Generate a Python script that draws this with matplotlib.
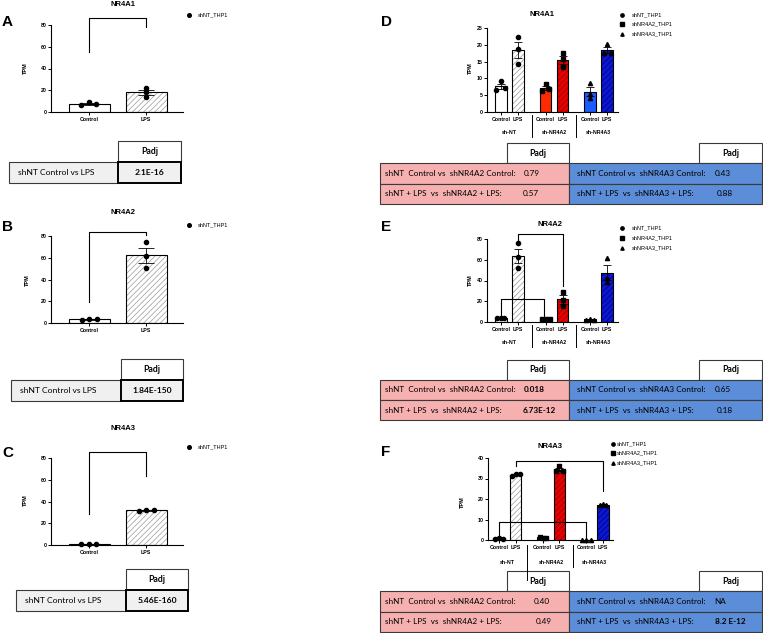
import numpy as np
import matplotlib
matplotlib.use('Agg')
import matplotlib.pyplot as plt
from matplotlib.patches import Rectangle

# ----------------------------- DATA -----------------------------
single_cats = ['Control', 'LPS']
group_ticklabels = ['Control', 'LPS', 'Control', 'LPS', 'Control', 'LPS']
group_names = ['sh-NT', 'sh-NR4A2', 'sh-NR4A3']
legend_single = ['shNT_THP1']
legend_group = ['shNT_THP1', 'shNR4A2_THP1', 'shNR4A3_THP1']

# Panel A  (NR4A1, shNT only)
A_control = [6.4, 8.9, 7.0]
A_lps = [22.4, 18.1, 13.5]
# Panel B  (NR4A2, shNT only)
B_control = [2.8, 3.9, 3.8]
B_lps = [74.2, 61.9, 50.9]
# Panel C  (NR4A3, shNT only)
C_control = [0.5, 0.6, 0.5]
C_lps = [31.0, 32.2, 32.0]

# Panel D  (NR4A1)
D_shNT_control = [9.2, 6.5, 7.2]
D_shNT_lps = [22.4, 18.7, 14.2]
D_shNR4A2_control = [8.3, 6.3, 6.7]
D_shNR4A2_lps = [17.5, 15.7, 13.5]
D_shNR4A3_control = [8.5, 5.4, 4.1]
D_shNR4A3_lps = [20.1, 17.6, 17.6]
# Panel E  (NR4A2)
E_shNT_control = [3.5, 4.2, 4.0]
E_shNT_lps = [76.0, 63.0, 52.0]
E_shNR4A2_control = [2.6, 3.0, 2.8]
E_shNR4A2_lps = [28.9, 21.5, 15.0]
E_shNR4A3_control = [2.2, 2.8, 2.4]
E_shNR4A3_lps = [61.7, 42.4, 38.5]
# Panel F  (NR4A3)
F_shNT_control = [0.7, 0.8, 0.7]
F_shNT_lps = [31.3, 32.2, 32.0]
F_shNR4A2_control = [1.6, 1.1, 1.0]
F_shNR4A2_lps = [36.1, 33.5, 33.5]
F_shNR4A3_control = [0.05, 0.05, 0.05]
F_shNR4A3_lps = [17.0, 17.6, 16.9]

# Tables
single_row_label = 'shNT Control vs LPS'
A_padj = '2.1E-16'
B_padj = '1.84E-150'
C_padj = '5.46E-160'
pink_labels = ['shNT  Control vs  shNR4A2 Control:', 'shNT + LPS  vs  shNR4A2 + LPS:']
blue_labels = ['shNT Control vs  shNR4A3 Control:', 'shNT + LPS  vs  shNR4A3 + LPS:']
D_pink_vals = ['0.79', '0.57']
D_blue_vals = ['0.43', '0.88']
E_pink_vals = ['0.018', '6.73E-12']
E_blue_vals = ['0.65', '0.18']
F_pink_vals = ['0.40', '0.49']
F_blue_vals = ['NA', '8.2 E-12']

# ----------------------------- STYLE -----------------------------
W, H = 763, 633
fig = plt.figure(figsize=(W / 100, H / 100), dpi=100)
CF = 'Liberation Sans'
TF = 'Lato'
TFS = 5.9

PINK = '#f7b0b0'
BLUE = '#5b8dd8'
GRAY = '#f0f0f0'
BORDER = '#3a3a3a'

ov = fig.add_axes([0, 0, 1, 1])
ov.set_xlim(0, W)
ov.set_ylim(H, 0)
ov.axis('off')
ov.set_zorder(5)


def px_axes(x0, y0, x1, y1):
    ax = fig.add_axes([x0 / W, 1 - y1 / H, (x1 - x0) / W, (y1 - y0) / H])
    ax.patch.set_alpha(0)
    ax._pxbox = (x0, y0, x1, y1)
    return ax


def style(ax, ylim, yticks, xticks, xlabels):
    ax.set_ylim(*ylim)
    ax.set_yticks(yticks)
    ax.set_xticks(xticks)
    ax.set_xticklabels(xlabels)
    for s in ['top', 'right']:
        ax.spines[s].set_visible(False)
    for s in ['left', 'bottom']:
        ax.spines[s].set_linewidth(0.8)
    ax.tick_params(length=2.3, width=0.7, labelsize=3.8, pad=1)
    for lab in ax.get_xticklabels() + ax.get_yticklabels():
        lab.set_fontweight('bold')
        lab.set_family(CF)


def ylabel(ax, xp, yp):
    x0, y0, x1, y1 = ax._pxbox
    ax.set_ylabel('TPM', fontsize=4, fontweight='bold', family=CF)
    ax.yaxis.set_label_coords((xp - x0) / (x1 - x0), (y1 - yp) / (y1 - y0))


def px_per_unit(ax):
    x0, y0, x1, y1 = ax._pxbox
    lo, hi = ax.get_xlim()
    return (x1 - x0) / (hi - lo)


def draw_bar(ax, x, vals, width, face, hatch, hatchcol, marker, jit_px, capsize):
    vals = np.asarray(vals)
    m = vals.mean()
    sem = vals.std(ddof=1) / np.sqrt(len(vals))
    if hatch:
        ax.bar(x, m, width, color=face, edgecolor=hatchcol, hatch=hatch, linewidth=0, zorder=2)
    else:
        ax.bar(x, m, width, color=face, linewidth=0, zorder=2)
    ax.bar(x, m, width, fill=False, edgecolor='black', linewidth=0.8, zorder=3)
    ax.errorbar(x, m, yerr=sem, color='black', elinewidth=0.6, capsize=capsize,
                capthick=0.6, zorder=4, fmt='none')
    ppu = px_per_unit(ax)
    ax.plot(x + np.asarray(jit_px) / ppu, vals, ls='none', marker=marker, color='black',
            ms=3, zorder=5, clip_on=False)


def bracket(ax, xa, xb, ya, top, yb):
    ax.plot([xa, xa, xb, xb], [ya, top, top, yb], color='black', lw=0.8,
            clip_on=False, zorder=6)


plt.rcParams['hatch.linewidth'] = 0.5

# ----------------------------- PANELS A-C -----------------------------
single_specs = [
    ('A', 'NR4A1', (A_control, A_lps), (51, 25, 183, 112), (123, 5), (28, 68),
     ([-7.7, 0, 7.3], [0, 0, 0]), (54.9, 86.2, 77.9), 15, 22),
    ('B', 'NR4A2', (B_control, B_lps), (51, 236, 183, 323), (123, 213), (30, 280),
     ([-7, 0, 7.7], [0, 0, 0]), (19.0, 84.0, 81.0), 225, 227),
    ('C', 'NR4A3', (C_control, C_lps), (51, 458, 183, 545), (123, 428), (28, 500),
     ([-7.7, 0, 7.3], [-7.3, 0, 7.7]), (28.5, 85.2, 63.7), 447, 453),
]

for letter, title, (ctrl, lps), box, tpos, lpos, jit, br, legy, lety in single_specs:
    ax = px_axes(*box)
    ax.set_xlim(-0.67, 1.65)
    style(ax, (0, 80), [0, 20, 40, 60, 80], [0, 1], single_cats)
    draw_bar(ax, 0, ctrl, 0.72, 'white', None, None, 'o', jit[0], 6)
    draw_bar(ax, 1, lps, 0.72, 'white', '//////', '#9a9a9a', 'o', jit[1], 6)
    bracket(ax, 0, 1, br[0], br[1], br[2])
    ylabel(ax, *lpos)
    ov.text(tpos[0], tpos[1], title, fontsize=5.5, fontweight='bold', family=CF,
            ha='center', va='center')
    ov.text(2, lety, letter, fontsize=11, fontweight='bold', family=CF, ha='left', va='center')
    ov.plot([189], [legy], 'o', color='black', ms=2.6)
    ov.text(198, legy, legend_single[0], fontsize=4, family=CF, va='center')

# single tables
single_tables = [
    ((9, 118, 181), 141, A_padj),
    ((11, 121, 183), 359, B_padj),
    ((16, 126, 188), 569, C_padj),
]
for (xl, xm, xr), y0, val in single_tables:
    ov.add_patch(Rectangle((xm, y0), xr - xm, 20.5, facecolor='white', edgecolor=BORDER, lw=0.8))
    ov.text((xm + xr) / 2, y0 + 10.5, 'Padj', fontsize=6.3, fontweight='bold', family=TF,
            ha='center', va='center')
    ov.add_patch(Rectangle((xl, y0 + 21), xm - xl, 20.5, facecolor=GRAY, edgecolor=BORDER, lw=0.8))
    ov.add_patch(Rectangle((xm, y0 + 21), xr - xm, 20.5, facecolor=GRAY, edgecolor='black', lw=1.4))
    ov.text(xl + 9, y0 + 31.5, single_row_label, fontsize=6.1, family=TF, va='center')
    ov.text((xm + xr) / 2, y0 + 31.5, val, fontsize=6.1, fontweight='bold', family=TF,
            ha='center', va='center')

# ----------------------------- PANELS D-F -----------------------------
positions = [0, 1, 2.62, 3.62, 5.24, 6.24]
faces = ['white', 'white', '#ff2a00', '#e80000', '#1a5cff', '#0a18d6']
hatches = [None, '//////', None, '//////', None, '//////']
hatchcols = [None, '#9a9a9a', None, '#8a0000', None, '#00006a']
markers = ['o', 'o', 's', 's', '^', '^']

group_specs = [
    dict(letter='D', title='NR4A1', tpos=(542, 15), lety=22, box=(487, 28, 618, 112),
         xlim=(-0.82, 6.88), ylim=(0, 25), yticks=[0, 5, 10, 15, 20, 25], lpos=(473, 68),
         data=[D_shNT_control, D_shNT_lps, D_shNR4A2_control, D_shNR4A2_lps,
               D_shNR4A3_control, D_shNR4A3_lps],
         jit=[[0, -4.5, 4], [0, 0, 0], [0, -4, 3.3], [0, 0, 0], [0, 0, 0], [0, -3.5, 3.5]],
         brackets=[], seps=[(1.8, 115, 137), (4.43, 115, 137)], gl_off=20,
         leg=(622, 632, [15, 24.3, 34.3]), table_y=143),
    dict(letter='E', title='NR4A2', tpos=(550, 225), lety=227, box=(487, 239, 618, 322),
         xlim=(-0.82, 6.88), ylim=(0, 80), yticks=[0, 20, 40, 60, 80], lpos=(473, 280),
         data=[E_shNT_control, E_shNT_lps, E_shNR4A2_control, E_shNR4A2_lps,
               E_shNR4A3_control, E_shNR4A3_lps],
         jit=[[-3.5, 0, 3.5], [0, 0, 0], [-4, 0, 4], [0, 0, 0], [-4, 0, 4], [0, 0, 0]],
         brackets=[(1, 3.62, 78, 85, 34.3), (0, 2.55, 5, 22, 6)],
         seps=[(1.8, 325, 347), (4.43, 325, 347)], gl_off=20,
         leg=(622, 632, [228.3, 237.7, 248.3]), table_y=359.5),
    dict(letter='F', title='NR4A3', tpos=(550, 446), lety=452, box=(488, 458, 613, 540),
         xlim=(-0.66, 6.83), ylim=(0, 40), yticks=[0, 10, 20, 30, 40], lpos=(465, 502),
         data=[F_shNT_control, F_shNT_lps, F_shNR4A2_control, F_shNR4A2_lps,
               F_shNR4A3_control, F_shNR4A3_lps],
         jit=[[-4, 0, 4], [-4, 0, 4], [-3, 0, 3], [0, -3.5, 3.5], [-4.5, 0, 4.5], [-3, 0, 3]],
         brackets=[(1, 6.24, 36, 38.5, 23.8), (0, 5.24, 1.6, 8.6, 0.8)],
         seps=[(1.66, 545, 580), (4.41, 545, 567)], gl_off=23,
         leg=(612.5, 617, [444.3, 452.7, 462.7]), table_y=571),
]

for sp in group_specs:
    ax = px_axes(*sp['box'])
    ax.set_xlim(*sp['xlim'])
    style(ax, sp['ylim'], sp['yticks'], positions, group_ticklabels)
    for i, vals in enumerate(sp['data']):
        draw_bar(ax, positions[i], vals, 0.68, faces[i], hatches[i], hatchcols[i],
                 markers[i], sp['jit'][i], 2.8)
    for xa, xb, ya, top, yb in sp['brackets']:
        bracket(ax, xa, xb, ya, top, yb)
    for g, name in enumerate(group_names):
        xc = (positions[2 * g] + positions[2 * g + 1]) / 2
        ax.annotate(name, xy=(xc, 0), xycoords=('data', 'axes fraction'),
                    xytext=(0, -sp['gl_off']), textcoords='offset pixels',
                    fontsize=3.8, fontweight='bold', family=CF, ha='center', va='center')
    ppu = px_per_unit(ax)
    x0 = sp['box'][0]
    for xs, ya, yb in sp['seps']:
        xp = x0 + (xs - sp['xlim'][0]) * ppu
        ov.plot([xp, xp], [ya, yb], color='black', lw=0.7)
    ylabel(ax, *sp['lpos'])
    ov.text(sp['tpos'][0], sp['tpos'][1], sp['title'], fontsize=5.5, fontweight='bold',
            family=CF, ha='center', va='center')
    ov.text(381, sp['lety'], sp['letter'], fontsize=11, fontweight='bold', family=CF,
            ha='left', va='center')
    mx, tx, ys = sp['leg']
    for mk, lab, yy in zip(['o', 's', '^'], legend_group, ys):
        ov.plot([mx], [yy], mk, color='black', ms=2.4)
        ov.text(tx, yy, lab, fontsize=4, family=CF, va='center')

# group tables
group_tables = [
    (143, D_pink_vals, D_blue_vals, [False, False], [False, False],
     [524, 523], [715, 717]),
    (359.5, E_pink_vals, E_blue_vals, [True, True], [False, False],
     [524, 523], [715, 717]),
    (571, F_pink_vals, F_blue_vals, [False, False], [False, True],
     [534, 536], [714, 715]),
]
rh = 20.3
for y0, pv, bv, pb, bb, pxs, bxs in group_tables:
    ov.add_patch(Rectangle((507, y0), 62, rh, facecolor='white', edgecolor=BORDER, lw=0.8))
    ov.text(538, y0 + rh / 2, 'Padj', fontsize=6.3, fontweight='bold', family=TF,
            ha='center', va='center')
    ov.add_patch(Rectangle((699, y0), 62.5, rh, facecolor='white', edgecolor=BORDER, lw=0.8))
    ov.text(730.5, y0 + rh / 2, 'Padj', fontsize=6.3, fontweight='bold', family=TF,
            ha='center', va='center')
    for r in range(2):
        yy = y0 + rh * (r + 1)
        ov.add_patch(Rectangle((380, yy), 189, rh, facecolor=PINK, edgecolor=BORDER, lw=0.8))
        ov.add_patch(Rectangle((569, yy), 192.5, rh, facecolor=BLUE, edgecolor=BORDER, lw=0.8))
        ov.text(385, yy + rh / 2, pink_labels[r], fontsize=TFS, family=TF, va='center')
        ov.text(pxs[r], yy + rh / 2, pv[r], fontsize=TFS, family=TF, va='center',
                fontweight='bold' if pb[r] else 'normal')
        ov.text(577, yy + rh / 2, blue_labels[r], fontsize=TFS, family=TF, va='center')
        ov.text(bxs[r], yy + rh / 2, bv[r], fontsize=TFS, family=TF, va='center',
                fontweight='bold' if bb[r] else 'normal')

fig.savefig('out.png', dpi=100)
